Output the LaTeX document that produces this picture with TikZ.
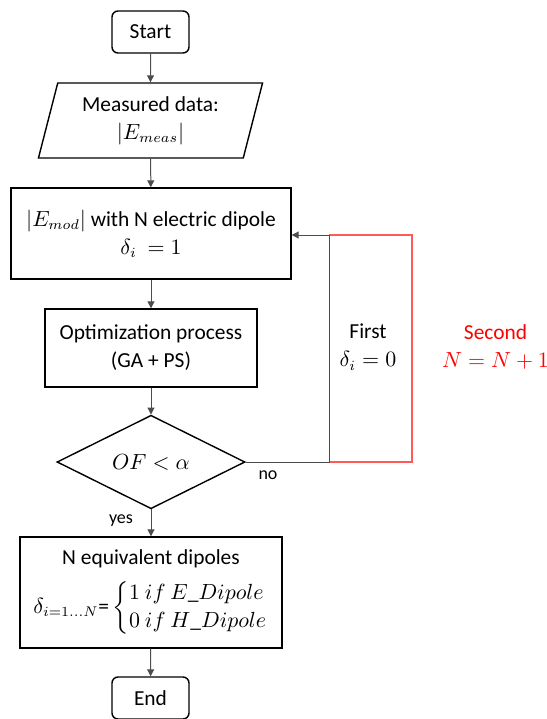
\documentclass[tikz,border=0pt]{standalone}
\usepackage{amsmath}
\usepackage{fontspec}
\setmainfont{Carlito}
\usetikzlibrary{shapes.geometric,arrows.meta}

\begin{document}
\begin{tikzpicture}[x=0.5pt,y=-0.5pt,
    every node/.style={font=\fontsize{10.7}{14}\selectfont, align=center},
    terminal/.style={draw, line width=0.7pt, rounded corners=3pt, minimum width=38.5pt, minimum height=21pt, inner sep=0pt},
    process/.style={draw, line width=0.7pt, inner sep=0pt},
    inout/.style={draw, line width=0.7pt, trapezium, trapezium stretches=true, trapezium left angle=73.6, trapezium right angle=106.4, minimum width=113pt, minimum height=37.5pt, inner sep=0pt},
    decision/.style={draw, line width=0.7pt, diamond, minimum width=94pt, minimum height=46pt, inner sep=0pt},
    flow/.style={draw=black!70, line width=0.5pt, -{Triangle[length=3.5pt,width=3.5pt]}},
    loop/.style={draw=black!70, line width=0.5pt},
    redloop/.style={draw=red!65, line width=0.6pt},
    small/.style={font=\fontsize{9}{11}\selectfont}]

    % Fix the page to the size of the reference
    \useasboundingbox (0,0) rectangle (547,719);

    % Main column of the flow chart
    \node[terminal] (start) at (150.5,32) {Start};
    \node[inout] (meas) at (150.5,120.5) {Measured data:\\ $|E_{meas}|$};
    \node[process, minimum width=140pt, minimum height=45.5pt] (model) at (151,233.5) {$|E_{mod}|$ with N electric dipole\\ $\delta_i\ = 1$};
    \node[process, minimum width=106pt, minimum height=39pt] (optim) at (151,348) {Optimization process\\ (GA + PS)};
    \node[decision] (test) at (151,462) {$OF < \alpha$};
    \node[process, minimum width=131pt, minimum height=55.5pt] (dipoles) at (151,592.5) {N equivalent dipoles\\[5pt] $\delta_{i=1\ldots N}\text{=}\left\{\begin{array}{@{}l@{}}1\ if\ E\_Dipole\\ 0\ if\ H\_Dipole\end{array}\right.$};
    \node[terminal] (end) at (150.5,698) {End};

    % Corners of the feedback loop
    \coordinate (lb) at (329,462);   % bottom of first loop
    \coordinate (lt) at (329,235);   % top of first loop
    \coordinate (rt) at (412,235);   % top right of second loop
    \coordinate (rb) at (412,462);   % bottom right of second loop

    % Arrows down the column
    \draw[flow] (start) -- (meas);
    \draw[flow] (meas) -- (model);
    \draw[flow] (model) -- (optim);
    \draw[flow] (optim) -- (test);
    \draw[flow] (test) -- (dipoles);
    \draw[flow] (dipoles) -- (end);

    % Feedback loops
    \draw[redloop] (lt) -- (rt) -- (rb) -- (lb);
    \draw[loop] (test.east) -- (lb) -- (lt);
    \draw[flow] (lt) -- (model.east |- lt);

    % Labels of the branches
    \node[small] (no) at (268,475) {no};
    \node[small] (yes) at (121,521) {yes};
    \node (first) at (368,347) {First\\ $\delta_i = 0$};
    \node[text=red] (second) at (495.5,347) {Second\\ $N = N + 1$};

\end{tikzpicture}
\end{document}
